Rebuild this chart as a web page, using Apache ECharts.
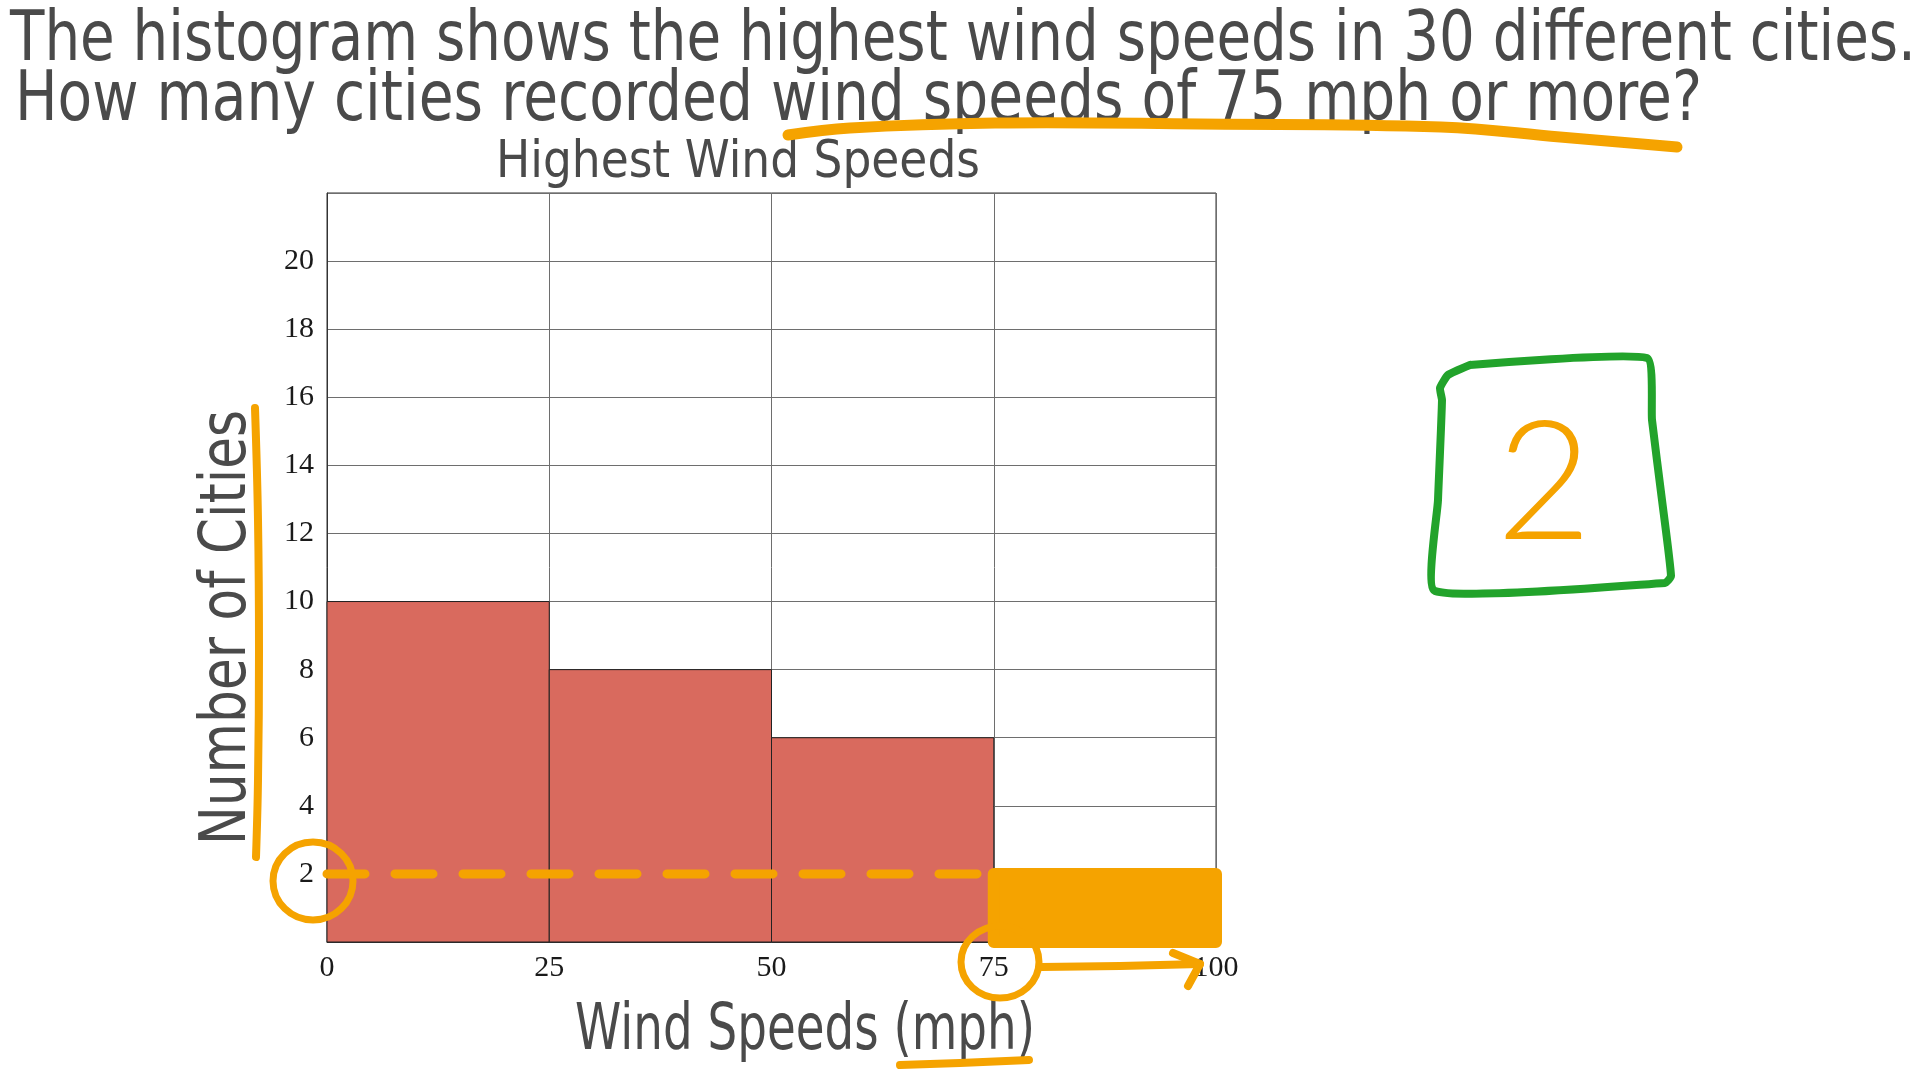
<!DOCTYPE html>
<html>
<head>
<meta charset="utf-8">
<script src="https://cdn.jsdelivr.net/npm/echarts@6/dist/echarts.min.js"></script>
<style>
html,body{margin:0;padding:0;background:#fff;}
#chart{width:1920px;height:1080px;}
</style>
</head>
<body>
<div id="chart"></div>
<script>
// ---- data ----
const binStarts = [0, 25, 50, 75];
const binEnds = [25, 50, 75, 100];
const counts = [10, 8, 6, 2];
const xTicks = [0, 25, 50, 75, 100];
const yTicks = [2, 4, 6, 8, 10, 12, 14, 16, 18, 20];
const highlightBin = 3; // 75-100 mph bin, answer = 2
const questionLine1 = 'The histogram shows the highest wind speeds in 30 different cities.';
const questionLine2 = 'How many cities recorded wind speeds of 75 mph or more?';
const chartTitle = 'Highest Wind Speeds';
const xName = 'Wind Speeds (mph)';
const yName = 'Number of Cities';
const answer = '2';

// ---- style ----
const HAND = '"DejaVu Sans"';
const INK = '#4a4a4a';
const ORANGE = '#f5a300';
const GREEN = '#22a32b';
const BAR = '#d96a5e';

const mctx = document.createElement('canvas').getContext('2d');
function fitScale(text, size, family, target) {
  mctx.font = size + 'px ' + family;
  return target / mctx.measureText(text).width;
}
function hand(text, x, y, size, targetW, extra) {
  const sx = fitScale(text, size, HAND, targetW);
  return Object.assign({
    type: 'text', x: x, y: y, scaleX: sx, scaleY: 1, silent: true,
    style: { text: text, fontSize: size, fontFamily: HAND, fill: INK, align: 'left', verticalAlign: 'middle' }
  }, extra || {});
}

const chart = echarts.init(document.getElementById('chart'), null, { renderer: 'canvas' });

const histData = binStarts.map((s, i) => [s, binEnds[i], counts[i]]);

const option = {
  animation: false,
  backgroundColor: '#fff',
  grid: { left: 327, right: 704, top: 193, bottom: 138, show: true, borderColor: '#333', borderWidth: 1 },
  xAxis: {
    type: 'value', min: 0, max: 100, interval: 25,
    axisLine: { show: true, lineStyle: { color: '#333', width: 1 } },
    axisTick: { show: false },
    axisLabel: { fontFamily: '"Liberation Serif"', fontSize: 30, color: '#1a1a1a', margin: 11,
      formatter: v => xTicks.indexOf(v) >= 0 ? String(v) : '' },
    splitLine: { show: true, lineStyle: { color: '#6e6e6e', width: 1 } }
  },
  yAxis: {
    type: 'value', min: 0, max: 22, interval: 2,
    axisLine: { show: true, lineStyle: { color: '#333', width: 1 } },
    axisTick: { show: false },
    axisLabel: { fontFamily: '"Liberation Serif"', fontSize: 30, color: '#1a1a1a', margin: 13,
      formatter: v => yTicks.indexOf(v) >= 0 ? String(v) : '' },
    splitLine: { show: true, lineStyle: { color: '#6e6e6e', width: 1 } }
  },
  series: [
    {
      type: 'custom',
      data: histData,
      encode: { x: [0, 1], y: 2 },
      z: 3,
      renderItem: function (params, api) {
        const p0 = api.coord([api.value(0), api.value(2)]);
        const p1 = api.coord([api.value(1), 0]);
        const hl = params.dataIndex === highlightBin;
        return {
          type: 'rect',
          shape: { x: p0[0], y: p0[1], width: p1[0] - p0[0], height: p1[1] - p0[1] },
          style: hl ? { fill: ORANGE, stroke: ORANGE, lineWidth: 12, lineJoin: 'round' }
                    : { fill: BAR, stroke: '#222', lineWidth: 1 }
        };
      }
    },
    {
      type: 'line',
      data: [[0, counts[highlightBin]], [binStarts[highlightBin], counts[highlightBin]]],
      symbol: 'none',
      z: 4,
      lineStyle: { color: ORANGE, width: 9, type: [38, 30], cap: 'round' }
    }
  ],
  graphic: [
    hand(questionLine1, 10, 42, 70, 1906),
    hand(questionLine2, 15, 102, 70, 1687),
    hand(chartTitle, 496, 163, 52, 484),
    hand(xName, 575, 1032, 64, 460),
    hand(yName, 228, 845, 64, 435, { rotation: Math.PI / 2 }),
    // orange underline of question
    { type: 'polyline', silent: true,
      shape: { points: [[788, 135], [850, 128], [995, 123], [1200, 124], [1441, 127], [1560, 137], [1677, 147]], smooth: 0.4 },
      style: { stroke: ORANGE, lineWidth: 11, lineCap: 'round', fill: null } },
    // orange bar next to y-axis name
    { type: 'polyline', silent: true,
      shape: { points: [[255, 408], [258, 520], [259, 650], [258, 780], [256, 857]], smooth: 0.4 },
      style: { stroke: ORANGE, lineWidth: 8, lineCap: 'round', fill: null } },
    // circle around y label 2
    { type: 'ellipse', silent: true, shape: { cx: 313, cy: 881, rx: 40, ry: 39 },
      style: { stroke: ORANGE, lineWidth: 7, fill: null }, z: 10 },
    // circle around x label 75
    { type: 'ellipse', silent: true, shape: { cx: 1000, cy: 962, rx: 39, ry: 36 },
      style: { stroke: ORANGE, lineWidth: 7, fill: null }, z: 10 },
    // arrow 75 -> 100
    { type: 'polyline', silent: true, shape: { points: [[1041, 967], [1120, 966], [1200, 964]] },
      style: { stroke: ORANGE, lineWidth: 8, lineCap: 'round', fill: null }, z: 10 },
    { type: 'polyline', silent: true, shape: { points: [[1173, 953], [1200, 964], [1188, 986]] },
      style: { stroke: ORANGE, lineWidth: 8, lineCap: 'round', lineJoin: 'round', fill: null }, z: 10 },
    // underline mph
    { type: 'polyline', silent: true, shape: { points: [[900, 1065], [960, 1063], [1029, 1060]] },
      style: { stroke: ORANGE, lineWidth: 8, lineCap: 'round', fill: null } },
    // green answer box
    { type: 'polyline', silent: true,
      shape: { points: [[1470, 365], [1647, 358], [1652, 420], [1662, 500], [1671, 576], [1665, 583], [1435, 591], [1438, 500], [1442, 400], [1440, 388], [1448, 375], [1470, 365]], smooth: 0.15 },
      style: { stroke: GREEN, lineWidth: 8, lineCap: 'round', lineJoin: 'round', fill: null } },
    { type: 'text', silent: true, x: 1544, y: 486,
      style: { text: answer, fontSize: 165, fontFamily: 'Lato', fontWeight: 300, fill: ORANGE, align: 'center', verticalAlign: 'middle' } }
  ]
};
chart.setOption(option);
</script>
</body>
</html>
